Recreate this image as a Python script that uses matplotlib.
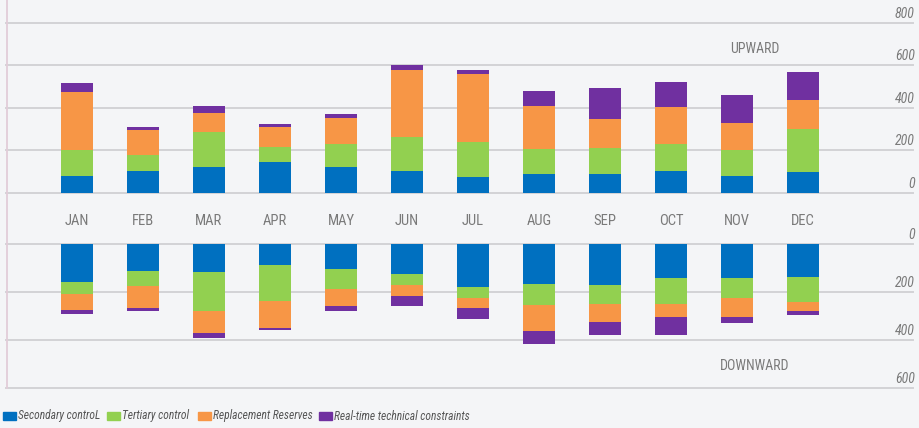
import matplotlib.pyplot as plt
import numpy as np
from matplotlib.lines import Line2D
from matplotlib.patches import Rectangle
import matplotlib.transforms as mtransforms
from matplotlib import font_manager

months = ['JAN', 'FEB', 'MAR', 'APR', 'MAY', 'JUN', 'JUL', 'AUG', 'SEP', 'OCT', 'NOV', 'DEC']
series = ['Secondary controL', 'Tertiary control', 'Replacement Reserves', 'Real-time technical constraints']
colors = ['#0070c0', '#92d050', '#f79646', '#7030a0']

# upward values
up_secondary = [80, 103, 122, 145, 122, 103, 75, 89, 89, 103, 80, 99]
up_tertiary = [123, 75, 164, 71, 109, 160, 164, 116, 122, 127, 122, 201]
up_replacement = [271, 118, 89, 94, 121, 314, 319, 203, 136, 174, 126, 136]
up_realtime = [42, 14, 33, 14, 19, 24, 19, 71, 146, 117, 132, 132]

# downward values
down_secondary = [159, 113, 118, 89, 105, 126, 180, 167, 172, 143, 143, 138]
down_tertiary = [49, 61, 162, 149, 83, 46, 46, 88, 77, 106, 81, 103]
down_replacement = [67, 93, 91, 112, 71, 45, 41, 108, 76, 55, 80, 39]
down_realtime = [17, 13, 21, 8, 21, 42, 46, 54, 54, 75, 25, 16]

up_ticks = [0, 200, 400, 600, 800]
down_ticks = [0, 200, 400, 600]

bg = '#f4f5f7'
grid_c = '#d3d3d6'
txt_c = '#7a7a7a'

# pick a narrow face if one is around, else Roboto
installed = {f.name for f in font_manager.fontManager.ttflist}
fam = [f for f in ['Roboto Condensed', 'Liberation Sans Narrow', 'Open Sans Condensed',
                   'Roboto', 'DejaVu Sans'] if f in installed]
narrow = fam[0] != 'Roboto'

W, H = 919, 428
fig = plt.figure(figsize=(W / 100, H / 100), dpi=100, facecolor=bg)

x = np.arange(len(months))
xlim = ((6 - 77) / 66, (913 - 77) / 66)
bw = 32 / 66

ax_up = fig.add_axes([6 / W, (H - 193) / H, (913 - 6) / W, 193 / H])
ax_dn = fig.add_axes([6 / W, (H - 388) / H, (913 - 6) / W, (388 - 243.7) / H])

for ax in (ax_up, ax_dn):
    ax.set_facecolor('none')
    ax.set_xlim(*xlim)
    for s in ax.spines.values():
        s.set_visible(False)
    ax.set_xticks([])
    ax.set_yticks([])

ax_up.set_ylim(0, 193 / (170.5 / 800))
ax_dn.set_ylim(144.3 / (96.3 / 400), 0)

up = [up_secondary, up_tertiary, up_replacement, up_realtime]
dn = [down_secondary, down_tertiary, down_replacement, down_realtime]

bottom = np.zeros(len(months))
for vals, c in zip(up, colors):
    ax_up.bar(x, vals, bw, bottom=bottom, color=c, zorder=3)
    bottom += np.array(vals)

bottom = np.zeros(len(months))
for vals, c in zip(dn, colors):
    ax_dn.bar(x, vals, bw, bottom=bottom, color=c, zorder=3)
    bottom += np.array(vals)

for ax, ticks in ((ax_up, up_ticks), (ax_dn, down_ticks)):
    tr = mtransforms.blended_transform_factory(ax.transAxes, ax.transData)
    tr = tr + mtransforms.ScaledTranslation(0, 2 / 100, fig.dpi_scale_trans)
    for t in ticks:
        ax.axhline(t, color=grid_c, lw=1.4, zorder=1, clip_on=False)
        ax.text(1.002, t, str(t), transform=tr, ha='right', va='bottom',
                fontsize=10, style='italic', color=txt_c, family=fam)

# left border line
fig.add_artist(Line2D([6.5 / W, 6.5 / W], [1, (H - 388) / H], color='#e2cdd9', lw=1.3))

# month labels
for i, m in enumerate(months):
    fig.text((77 + 66 * i) / W, (H - 221) / H, m, ha='center', va='center',
             fontsize=10.5, color=txt_c, family=fam)

fig.text(755 / W, (H - 49) / H, 'UPWARD', ha='center', va='center',
         fontsize=10, color=txt_c, family=fam)
fig.text(755 / W, (H - 366) / H, 'DOWNWARD', ha='center', va='center',
         fontsize=10, color=txt_c, family=fam)

# legend drawn by hand
if narrow:
    leg_x = [3, 107, 198, 319]
    leg_fs = 8.3
else:
    leg_x = [3, 111, 205, 327]
    leg_fs = 8.3
for lx, name, c in zip(leg_x, series, colors):
    fig.add_artist(Rectangle((lx / W, (H - 420) / H), 13 / W, 8 / H, color=c,
                             transform=fig.transFigure))
    fig.text((lx + 15) / W, (H - 416) / H, name, ha='left', va='center',
             fontsize=leg_fs, style='italic', color='#555555', family=fam)

fig.savefig('out.png', dpi=100, facecolor=bg)
